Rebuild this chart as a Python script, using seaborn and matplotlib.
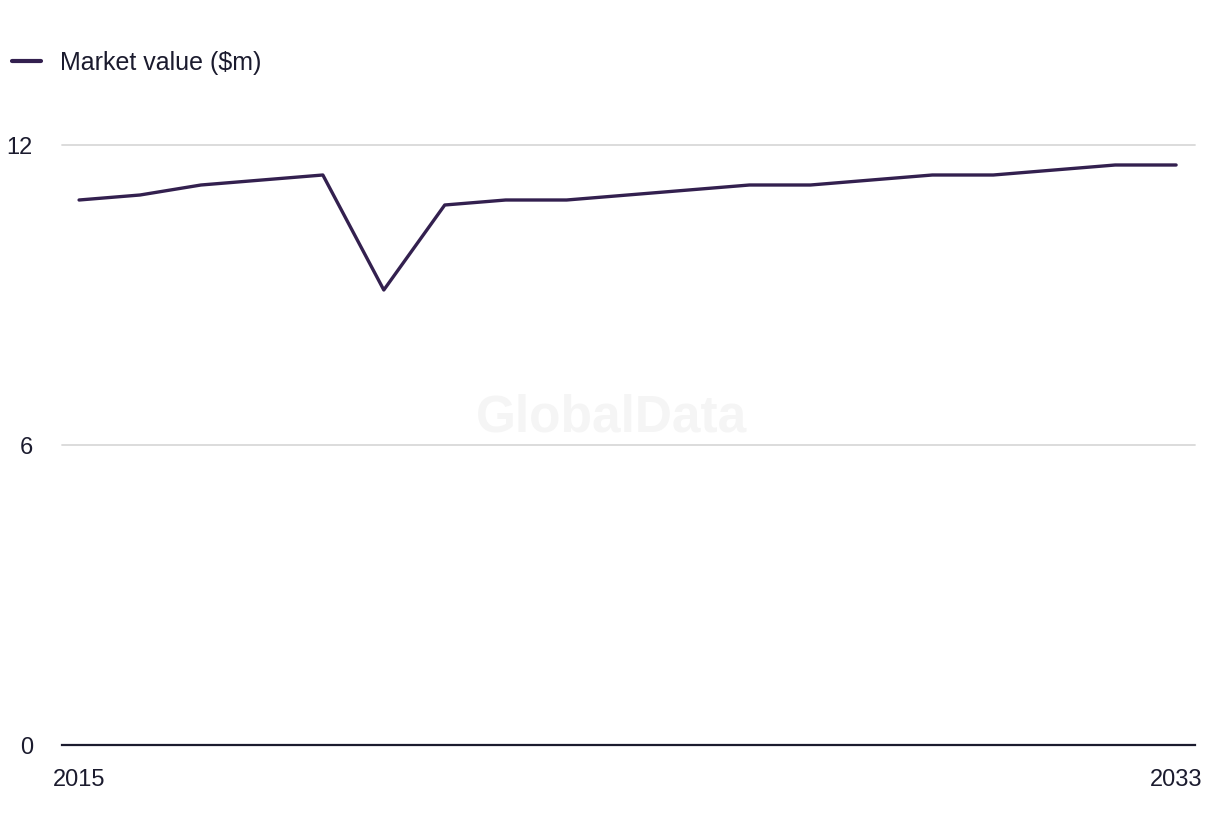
import pandas as pd
import matplotlib.pyplot as plt
import seaborn as sns

# market value series
years = list(range(2015, 2034))
values = [10.9, 11.0, 11.2, 11.3, 11.4, 9.1, 10.8, 10.9, 10.9, 11.0,
          11.1, 11.2, 11.2, 11.3, 11.4, 11.4, 11.5, 11.6, 11.6]
series_name = 'Market value ($m)'
y_ticks = [0, 6, 12]
x_ticks = [2015, 2033]

df = pd.DataFrame({'year': years, 'value': values, 'series': series_name})

sns.set_style('white')
plt.rcParams['font.family'] = ['Liberation Sans', 'DejaVu Sans']

fig = plt.figure(figsize=(12.2, 8.36), dpi=100)
ax = fig.add_axes([62 / 1220, 1 - 745 / 836, (1195 - 62) / 1220, (745 - 145) / 836])

line_color = '#33204f'
sns.lineplot(data=df, x='year', y='value', hue='series', palette=[line_color],
             linewidth=2.4, ax=ax, legend=True)

ax.set_xlim(2014.72, 2033.31)
ax.set_ylim(0, 12)
ax.set_yticks(y_ticks)
ax.set_xticks(x_ticks)
ax.set_xlabel('')
ax.set_ylabel('')
ax.tick_params(axis='y', length=0, pad=21, labelsize=17, labelcolor='#1b1b2e')
ax.tick_params(axis='x', length=0, pad=17, labelsize=17, labelcolor='#1b1b2e')

# grid lines (skip the zero line, it is the axis)
for v in y_ticks[1:]:
    ax.axhline(v, color='#d9d9d9', linewidth=1.3, zorder=0, clip_on=False)

for s in ['top', 'right', 'left']:
    ax.spines[s].set_visible(False)
ax.spines['bottom'].set_color('#1b1b2e')
ax.spines['bottom'].set_linewidth(1.6)

# watermark
ax.text(0.485, 0.545, 'GlobalData', transform=ax.transAxes, ha='center', va='center',
        fontsize=37, fontweight='bold', color='#f5f5f5', zorder=0)

handles, labels = ax.get_legend_handles_labels()
ax.legend(handles, labels, loc='center left', bbox_to_anchor=(12 / 1220, 1 - 63 / 836),
          bbox_transform=fig.transFigure, frameon=False, fontsize=18,
          handlelength=1.15, handletextpad=0.75, borderpad=0, borderaxespad=0,
          labelcolor='#1b1b2e')
for h in ax.get_legend().legend_handles:
    h.set_linewidth(3)

fig.savefig('out.png', dpi=100, facecolor='white')
